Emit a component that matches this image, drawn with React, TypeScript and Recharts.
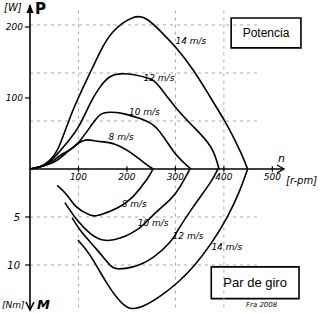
import React from 'react';
import {
  ComposedChart,
  Line,
  XAxis,
  YAxis,
  ReferenceLine,
  ReferenceDot,
  ReferenceArea,
} from 'recharts';

// ---- data: power P [W] vs rotor speed n [rpm] ----
const rpmP8 = [0, 20, 40, 55, 72, 99, 120, 140, 175, 210, 237, 254];
const power8 = [0, 3, 7, 12, 21, 36, 41, 39, 35, 22, 8, 0];
const rpmP10 = [0, 20, 40, 60, 80, 97, 124, 144, 165, 192, 227, 262, 297, 332];
const power10 = [0, 3, 8, 18, 26, 35, 59, 76, 80, 78, 71, 57, 24, 0];
const rpmP12 = [0, 20, 40, 60, 80, 103, 124, 144, 165, 186, 212, 247, 268, 305, 338, 373, 390];
const power12 = [0, 3, 10, 24, 40, 63, 92, 115, 130, 134, 133, 127, 115, 83, 59, 31, 0];
const rpmP14 = [0, 20, 40, 60, 87, 118, 144, 171, 212, 241, 268, 301, 338, 373, 408, 435, 449];
const power14 = [0, 3, 12, 32, 80, 127, 164, 193, 213, 211, 195, 171, 138, 100, 60, 23, 0];

// ---- data: torque M [Nm] vs rotor speed n [rpm] (drawn downward) ----
const rpmM8 = [56, 76, 97, 124, 144, 179, 212, 241, 254];
const torque8 = [1.7, 2.7, 4.0, 4.8, 4.8, 4.1, 2.9, 1.1, 0];
const rpmM10 = [72, 97, 124, 151, 186, 227, 254, 289, 309, 330];
const torque10 = [3.5, 5.3, 6.7, 7.4, 7.2, 6.1, 4.8, 3.2, 1.9, 0];
const rpmM12 = [87, 107, 138, 165, 181, 212, 254, 289, 305, 336, 371, 388];
const torque12 = [5.1, 6.6, 8.4, 10.0, 10.4, 10.2, 9.2, 7.6, 6.4, 4.0, 1.5, 0];
const rpmM14 = [99, 124, 155, 181, 206, 237, 270, 305, 338, 373, 408, 433, 449];
const torque14 = [7.4, 9.0, 11.6, 13.5, 14.5, 14.2, 13.2, 11.8, 10.1, 7.8, 4.9, 2.2, 0];

// ---- ticks / labels ----
const rpmTicks = [100, 200, 300, 400, 500];
const powerTicks = [100, 200];
const torqueTicks = [5, 10];
const gridRpm = [100, 300, 400];
const gridTorque = [15, 10, 5, -5, -10];

const powerLabels = [
  { text: '14 m/s', n: 332, v: 181 },
  { text: '12 m/s', n: 266, v: 129 },
  { text: '10 m/s', n: 236, v: 80 },
  { text: '8 m/s', n: 188, v: 45 },
];
const torqueLabels = [
  { text: '8 m/s', n: 215, v: 3.6 },
  { text: '10 m/s', n: 254, v: 5.6 },
  { text: '12 m/s', n: 326, v: 7.0 },
  { text: '14 m/s', n: 406, v: 8.1 },
];

const mk = (xs: number[], ys: number[], sign = 1) => xs.map((n, i) => ({ n, v: sign * ys[i] }));

const powerSeries = [
  { key: 'p8', data: mk(rpmP8, power8) },
  { key: 'p10', data: mk(rpmP10, power10) },
  { key: 'p12', data: mk(rpmP12, power12) },
  { key: 'p14', data: mk(rpmP14, power14) },
];
const torqueSeries = [
  { key: 'm8', data: mk(rpmM8, torque8, -1) },
  { key: 'm10', data: mk(rpmM10, torque10, -1) },
  { key: 'm12', data: mk(rpmM12, torque12, -1) },
  { key: 'm14', data: mk(rpmM14, torque14, -1) },
];

const hand = { fontFamily: 'DejaVu Sans, sans-serif', fontStyle: 'italic' as const };
const gridStroke = '#a8a8a8';

const RightArrow = (props: any) => {
  const { cx, cy } = props;
  return (
    <path d={`M${cx - 7},${cy - 4} L${cx},${cy} L${cx - 7},${cy + 4}`} stroke="#000" strokeWidth={1.4} fill="none" />
  );
};
const UpArrow = (props: any) => {
  const { cx, cy } = props;
  return <path d={`M${cx - 3.5},${cy + 8} L${cx},${cy - 1} L${cx + 3.5},${cy + 8} Z`} fill="#000" />;
};
const DownArrow = (props: any) => {
  const { cx, cy } = props;
  return <path d={`M${cx - 4},${cy - 8} L${cx},${cy} L${cx + 4},${cy - 8}`} stroke="#000" strokeWidth={1.6} fill="none" />;
};

export default function App() {
  return (
    <div
      style={{
        position: 'absolute',
        left: 0,
        top: 0,
        width: 322,
        height: 314,
        background: '#fff',
        fontFamily: 'Liberation Sans, Arial, sans-serif',
      }}
    >
      <ComposedChart width={322} height={314} margin={{ top: 5, right: 7, bottom: 4, left: 0 }}>
        <XAxis xAxisId="x" type="number" dataKey="n" domain={[0, 588]} hide allowDataOverflow />
        <YAxis
          yAxisId="P"
          type="number"
          domain={[-198.6, 231]}
          ticks={powerTicks}
          width={30}
          allowDataOverflow
          axisLine={{ stroke: '#000', strokeWidth: 1.6 }}
          tickLine={{ stroke: '#000', strokeWidth: 1.2 }}
          tickSize={5}
          tick={{ fill: '#000', fontSize: 9, ...hand }}
        />
        <YAxis yAxisId="M" type="number" orientation="right" domain={[-14.69, 17.08]} hide allowDataOverflow />

        {gridTorque.map((g) => (
          <ReferenceLine
            key={'gt' + g}
            xAxisId="x"
            yAxisId="M"
            segment={[{ x: 0, y: g }, { x: 475, y: g }]}
            stroke={gridStroke}
            strokeDasharray="3 4"
            strokeWidth={1}
          />
        ))}
        {gridRpm.map((g) => (
          <ReferenceLine
            key={'gr' + g}
            xAxisId="x"
            yAxisId="M"
            segment={[{ x: g, y: 16.5 }, { x: g, y: -14.6 }]}
            stroke={gridStroke}
            strokeDasharray="3 4"
            strokeWidth={1}
          />
        ))}

        {/* n axis at zero */}
        <ReferenceLine
          xAxisId="x"
          yAxisId="P"
          segment={[{ x: 0, y: 0 }, { x: 522, y: 0 }]}
          stroke="#000"
          strokeWidth={1.6}
        />
        <ReferenceDot xAxisId="x" yAxisId="P" x={524} y={0} r={3} shape={<RightArrow />} />
        <ReferenceDot xAxisId="x" yAxisId="P" x={0} y={231} r={3} shape={<UpArrow />} />
        <ReferenceDot xAxisId="x" yAxisId="P" x={0} y={-198.6} r={3} shape={<DownArrow />} />

        {rpmTicks.map((t) => (
          <ReferenceLine
            key={'xt' + t}
            xAxisId="x"
            yAxisId="P"
            segment={[{ x: t, y: -4 }, { x: t, y: 4 }]}
            stroke="#000"
            strokeWidth={1.2}
          />
        ))}
        {rpmTicks.map((t) => (
          <ReferenceDot
            key={'xl' + t}
            xAxisId="x"
            yAxisId="P"
            x={t}
            y={0}
            r={1}
            fill="none"
            stroke="none"
            label={{ value: String(t), position: 'bottom', offset: 4, fontSize: 9, fill: '#000', ...hand }}
          />
        ))}

        {torqueTicks.map((t) => (
          <ReferenceLine
            key={'mt' + t}
            xAxisId="x"
            yAxisId="M"
            ifOverflow="visible"
            segment={[{ x: -10, y: -t }, { x: 0, y: -t }]}
            stroke="#000"
            strokeWidth={1.2}
          />
        ))}
        {torqueTicks.map((t) => (
          <ReferenceDot
            key={'ml' + t}
            xAxisId="x"
            yAxisId="M"
            x={0}
            y={-t}
            r={1}
            fill="none"
            stroke="none"
            ifOverflow="visible"
            label={{ value: String(t), position: 'left', offset: 9, fontSize: 10, fill: '#000', ...hand }}
          />
        ))}

        {powerSeries.map((s) => (
          <Line
            key={s.key}
            xAxisId="x"
            yAxisId="P"
            data={s.data}
            dataKey="v"
            type="natural"
            stroke="#000"
            strokeWidth={1.6}
            dot={false}
            isAnimationActive={false}
          />
        ))}
        {torqueSeries.map((s) => (
          <Line
            key={s.key}
            xAxisId="x"
            yAxisId="M"
            data={s.data}
            dataKey="v"
            type="natural"
            stroke="#000"
            strokeWidth={1.6}
            dot={false}
            isAnimationActive={false}
          />
        ))}

        {powerLabels.map((l) => (
          <ReferenceDot
            key={'pl' + l.text}
            xAxisId="x"
            yAxisId="P"
            x={l.n}
            y={l.v}
            r={1}
            fill="none"
            stroke="none"
            label={{ value: l.text, position: 'center', fontSize: 9, fill: '#000', ...hand }}
          />
        ))}
        {torqueLabels.map((l) => (
          <ReferenceDot
            key={'ml' + l.text}
            xAxisId="x"
            yAxisId="M"
            x={l.n}
            y={-l.v}
            r={1}
            fill="none"
            stroke="none"
            label={{ value: l.text, position: 'center', fontSize: 9, fill: '#000', ...hand }}
          />
        ))}

        <ReferenceArea
          xAxisId="x"
          yAxisId="P"
          x1={415}
          x2={559}
          y1={170.6}
          y2={212.6}
          fill="#fff"
          fillOpacity={1}
          stroke="#000"
          strokeWidth={1.6}
          label={{ value: 'Potencia', position: 'center', fontSize: 12, fill: '#000' }}
        />
        <ReferenceArea
          xAxisId="x"
          yAxisId="M"
          x1={374}
          x2={555}
          y1={-10.2}
          y2={-13.5}
          fill="#fff"
          fillOpacity={1}
          stroke="#000"
          strokeWidth={1.6}
          label={{ value: 'Par de giro', position: 'center', fontSize: 13, fill: '#000' }}
        />
      </ComposedChart>

      <span style={{ position: 'absolute', left: 4, top: 2, fontSize: 10, lineHeight: '12px', ...hand }}>[W]</span>
      <span style={{ position: 'absolute', left: 35, top: 1, fontSize: 15, lineHeight: '16px', fontWeight: 'bold', fontFamily: 'DejaVu Sans, sans-serif' }}>P</span>
      <span style={{ position: 'absolute', left: 2, top: 300, fontSize: 9, lineHeight: '11px', ...hand }}>[Nm]</span>
      <span style={{ position: 'absolute', left: 37, top: 298, fontSize: 13, lineHeight: '14px', fontWeight: 'bold', ...hand }}>M</span>
      <span style={{ position: 'absolute', left: 278, top: 153, fontSize: 11, lineHeight: '12px', ...hand }}>n</span>
      <span style={{ position: 'absolute', left: 286, top: 175, fontSize: 10, lineHeight: '12px', ...hand }}>[r-pm]</span>
      <span style={{ position: 'absolute', left: 246, top: 301, fontSize: 7, lineHeight: '9px', ...hand }}>Fra 2008</span>
    </div>
  );
}
